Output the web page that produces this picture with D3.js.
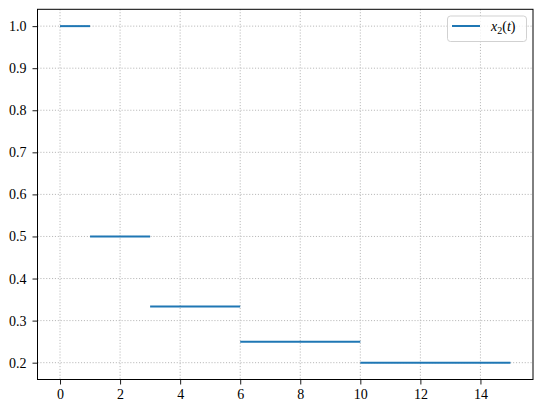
<!DOCTYPE html>
<html><head><meta charset="utf-8">
<script src="https://cdn.jsdelivr.net/npm/d3@7"></script>
<style>body{margin:0;background:#fff}svg{display:block}</style>
</head><body>
<svg id="c" width="543" height="411"></svg>
<script>
const segStart = [0, 1, 3, 6, 10];
const segEnd = [1, 3, 6, 10, 15];
const segValue = [1.0, 0.5, 1/3, 0.25, 0.2];
const xTicks = [0, 2, 4, 6, 8, 10, 12, 14];
const yTicks = [0.2, 0.3, 0.4, 0.5, 0.6, 0.7, 0.8, 0.9, 1.0];
const seriesLabel = "x";

const svg = d3.select("#c");
const L = 37.5, R = 533, T = 9.3, B = 379.5;
const x = d3.scaleLinear().domain([-0.75, 15.75]).range([L, R]);
const y = d3.scaleLinear().domain([0.16, 1.04]).range([B, T]);
const font = "'Liberation Serif', serif";

const grid = svg.append("g");
grid.selectAll("line.vx").data(xTicks).join("line")
  .attr("x1", d => x(d)).attr("x2", d => x(d)).attr("y1", T).attr("y2", B)
  .attr("stroke", "#b0b0b0").attr("stroke-width", 0.9).attr("stroke-dasharray", "1.1,1.8");
grid.selectAll("line.hy").data(yTicks).join("line")
  .attr("y1", d => y(d)).attr("y2", d => y(d)).attr("x1", L).attr("x2", R)
  .attr("stroke", "#b0b0b0").attr("stroke-width", 0.9).attr("stroke-dasharray", "1.1,1.8");

const segs = segStart.map((s, i) => ({s, e: segEnd[i], v: segValue[i]}));
svg.append("g").selectAll("line").data(segs).join("line")
  .attr("x1", d => x(d.s)).attr("x2", d => x(d.e))
  .attr("y1", d => y(d.v)).attr("y2", d => y(d.v))
  .attr("stroke", "#1f77b4").attr("stroke-width", 2);

const xAxis = svg.append("g").attr("transform", `translate(0,${B})`)
  .call(d3.axisBottom(x).tickValues(xTicks).tickFormat(d3.format("d")).tickSize(5).tickPadding(5));
const yAxis = svg.append("g").attr("transform", `translate(${L},0)`)
  .call(d3.axisLeft(y).tickValues(yTicks).tickFormat(d3.format(".1f")).tickSize(5).tickPadding(6));
[xAxis, yAxis].forEach(a => {
  a.select(".domain").remove();
  a.selectAll("line").attr("stroke", "#000").attr("stroke-width", 0.9);
  a.selectAll("text").attr("font-family", font).attr("font-size", 14).attr("fill", "#000");
});

svg.append("rect").attr("x", L).attr("y", T).attr("width", R - L).attr("height", B - T)
  .attr("fill", "none").attr("stroke", "#000").attr("stroke-width", 1);

const lg = svg.append("g");
lg.append("rect").attr("x", 447.5).attr("y", 16).attr("width", 79).attr("height", 25.5)
  .attr("rx", 3).attr("fill", "#fff").attr("fill-opacity", 0.8).attr("stroke", "#cccccc").attr("stroke-width", 0.9);
lg.append("line").attr("x1", 452).attr("x2", 480).attr("y1", 26).attr("y2", 26)
  .attr("stroke", "#1f77b4").attr("stroke-width", 2);
const t = lg.append("text").attr("x", 491).attr("y", 31).attr("font-family", font)
  .attr("font-size", 14).attr("font-style", "italic").attr("fill", "#000");
t.append("tspan").text(seriesLabel);
t.append("tspan").attr("font-size", 10).attr("dy", 3).attr("font-style", "normal").text("2");
t.append("tspan").attr("dy", -3).attr("font-style", "normal").text("(");
t.append("tspan").text("t");
t.append("tspan").attr("font-style", "normal").text(")");
</script>
</body></html>
